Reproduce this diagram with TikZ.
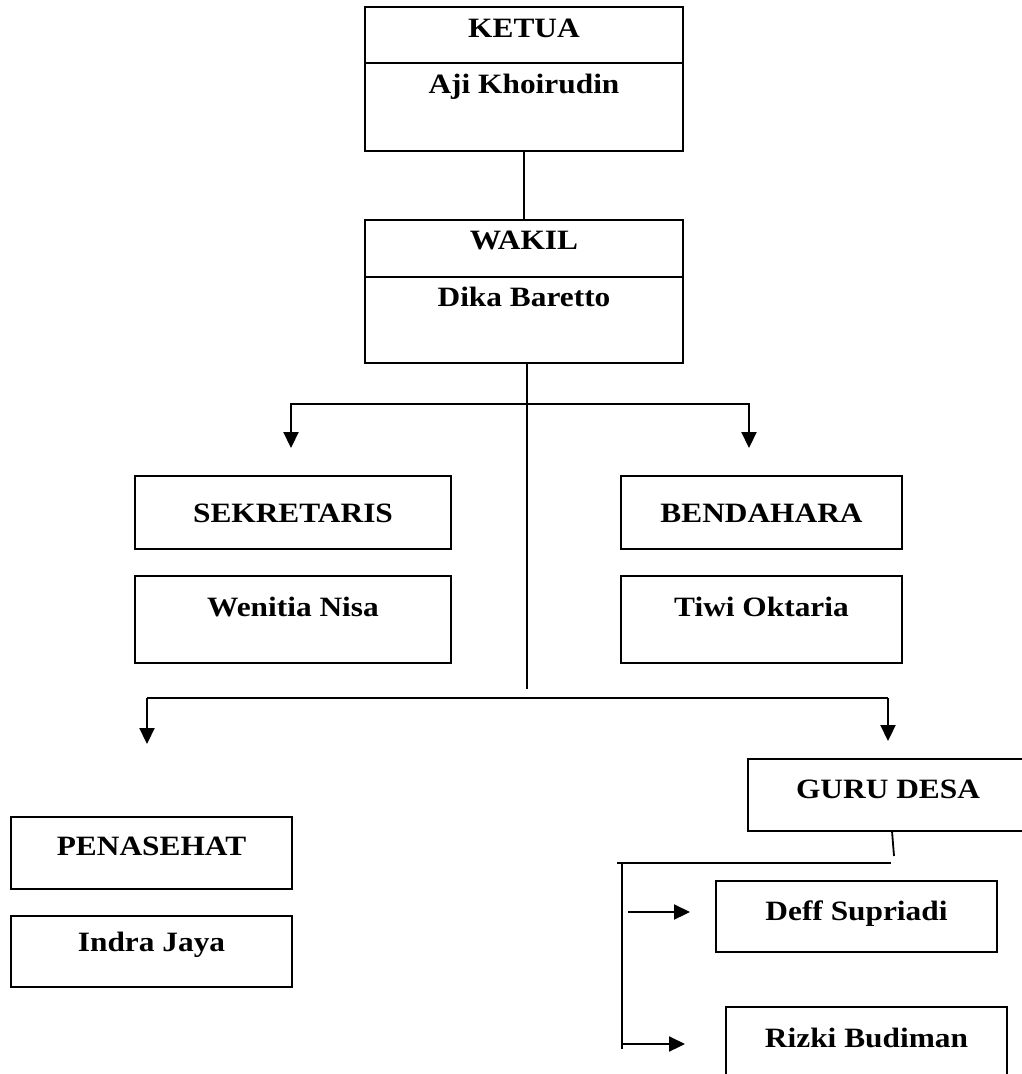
\documentclass[tikz,border=0pt]{standalone}
\usepackage{fontspec}
\setmainfont{Liberation Serif}[FakeStretch=1.12]
\usetikzlibrary{arrows.meta, positioning}
\tikzset{
  orgbox/.style={rectangle, draw, line width=1.9pt, inner sep=0pt, outer sep=0pt, anchor=north west, align=center, text height=19pt, font=\fontsize{28}{32}\selectfont\bfseries},
  link/.style={line width=1.8pt},
  bar/.style={line width=2.8pt},
  arr/.style={-{Triangle[length=16pt, width=15pt]}, line width=2.2pt},
}

\begin{document}
\begin{tikzpicture}[x=1pt, y=-1pt]
  \useasboundingbox (0,0) rectangle (1022,1074);
  \clip (0,0) rectangle (1022,1074);

  % Nodes
  \node[orgbox, minimum width=318pt, minimum height=56pt, text depth=14pt] (ketuaT) at (365,7) {KETUA};
  \node[orgbox, minimum width=318pt, minimum height=88pt, text depth=46pt, below=0pt of ketuaT] (ketuaB) {Aji Khoirudin};
  \node[orgbox, minimum width=318pt, minimum height=57pt, text depth=17pt] (wakilT) at (365,220) {WAKIL};
  \node[orgbox, minimum width=318pt, minimum height=86pt, text depth=46pt, below=0pt of wakilT] (wakilB) {Dika Baretto};

  \node[orgbox, minimum width=316pt, minimum height=73pt, text depth=0pt] (sek) at (135,476) {SEKRETARIS};
  \node[orgbox, minimum width=316pt, minimum height=87pt, text depth=25pt, below=27pt of sek] (wenitia) {Wenitia Nisa};
  \node[orgbox, minimum width=281pt, minimum height=73pt, text depth=0pt] (ben) at (621,476) {BENDAHARA};
  \node[orgbox, minimum width=281pt, minimum height=87pt, text depth=25pt, below=27pt of ben] (tiwi) {Tiwi Oktaria};

  \node[orgbox, minimum width=281pt, minimum height=72pt, text depth=14pt] (pen) at (11,817) {PENASEHAT};
  \node[orgbox, minimum width=281pt, minimum height=71pt, text depth=20pt, below=27pt of pen] (indra) {Indra Jaya};
  \node[orgbox, minimum width=280pt, minimum height=72pt, text depth=12pt] (guru) at (748,759) {GURU DESA};
  \node[orgbox, minimum width=281pt, minimum height=71pt, text depth=11pt] (deff) at (716,881) {Deff Supriadi};
  \node[orgbox, minimum width=281pt, minimum height=72pt, text depth=11pt] (rizki) at (726,1007) {Rizki Budiman};

  % Coordinates
  \coordinate (fork1) at (527,404);
  \coordinate (stem1) at (527,689);
  \coordinate (tipS) at (291,448);
  \coordinate (tipB) at (749,448);
  \coordinate (barL) at (147,698);
  \coordinate (barR) at (888,698);
  \coordinate (tipP) at (147,744);
  \coordinate (tipG) at (888,741);
  \coordinate (guruDrop) at (894,856);
  \coordinate (branchL) at (617,863);
  \coordinate (branchR) at (891,863);
  \coordinate (railTop) at (622,863);
  \coordinate (railEnd) at (622,1049);
  \coordinate (toDeffS) at (628,912);
  \coordinate (toDeffE) at (690,912);
  \coordinate (toRizkiS) at (623,1044);
  \coordinate (toRizkiE) at (685,1044);

  % Arrows
  \draw[link] (ketuaB.south) -- (wakilT.north);
  \draw[link] (wakilB.south -| fork1) -- (stem1);
  \draw[arr] (fork1) -| (tipS);
  \draw[arr] (fork1) -| (tipB);
  \draw[bar] (barL) -- (barR);
  \draw[arr] (barL) -- (tipP);
  \draw[arr] (barR) -- (tipG);
  \draw[link] ([xshift=4pt]guru.south) -- (guruDrop);
  \draw[bar] (branchL) -- (branchR);
  \draw[link] (railTop) -- (railEnd);
  \draw[arr] (toDeffS) -- (toDeffE);
  \draw[arr] (toRizkiS) -- (toRizkiE);
\end{tikzpicture}
\end{document}
